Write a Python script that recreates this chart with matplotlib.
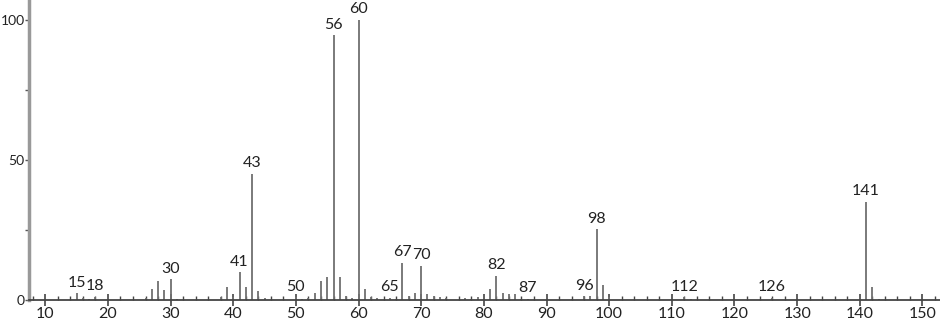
import matplotlib.pyplot as plt
import numpy as np

# mass spectrum: m/z and relative intensity
mz = [15, 16, 17, 18, 26, 27, 28, 29, 30, 31,
      38, 39, 40, 41, 42, 43, 44, 45,
      50, 51, 52, 53, 54, 55, 56, 57, 58, 59, 60, 61, 62, 63, 65, 66,
      67, 68, 69, 70, 71, 72, 73, 74, 77, 78, 79, 81, 82, 83, 84, 85, 86, 87,
      94, 96, 97, 98, 99, 100, 112, 113, 126, 141, 142, 143]
inten = [2.4, 0.6, 0.5, 1.1, 0.8, 3.9, 6.8, 3.6, 7.5, 0.5,
         1.0, 4.7, 1.2, 10.0, 4.7, 45.0, 3.2, 0.6,
         1.0, 0.5, 0.7, 2.4, 6.8, 8.3, 94.5, 8.3, 1.5, 0.6, 100.0, 3.8, 1.0, 0.6, 0.8, 0.5,
         13.3, 1.4, 2.5, 12.3, 2.1, 1.4, 1.2, 0.6, 0.8, 0.5, 1.0, 4.0, 8.6, 2.4, 2.0, 2.0, 0.5, 0.5,
         0.4, 1.4, 1.4, 25.2, 5.4, 1.2, 1.0, 0.3, 0.8, 35.1, 4.5, 0.5]
labelled = [15, 18, 30, 41, 43, 50, 56, 60, 65, 67, 70, 82, 87, 96, 98, 112, 126, 141]

plt.rcParams['font.family'] = ['Lato', 'DejaVu Sans']

fig = plt.figure(figsize=(9.4, 3.22), dpi=100)
ax = fig.add_axes([29/940, 22/322, 1 - 29/940, 1 - 22/322])

ax.vlines(mz, 0, inten, color='#707070', lw=1.3)

lookup = dict(zip(mz, inten))
for m in labelled:
    ax.annotate(str(m), (m, lookup[m]), xytext=(0, 2.5), textcoords='offset points',
                ha='center', va='bottom', fontsize=11.5, color='#222222')

ax.set_xlim(7.4, 152.8)
ax.set_ylim(0, 107.1)

ax.set_xticks(np.arange(10, 151, 10))
ax.set_xticks(np.arange(8, 153, 2), minor=True)
ax.set_yticks([0, 50, 100])
ax.set_yticks([25, 75], minor=True)

ax.tick_params(axis='x', which='major', direction='inout', length=8, width=1.2,
               color='#444444', labelsize=11.5, labelcolor='#222222', pad=1)
ax.tick_params(axis='x', which='minor', direction='in', length=3, width=1,
               color='#444444')
ax.tick_params(axis='y', which='both', direction='out', length=3, width=1,
               color='#555555', labelsize=10, labelcolor='#222222', pad=0)

for s in ['top', 'right']:
    ax.spines[s].set_visible(False)
ax.spines['left'].set_color('#999999')
ax.spines['left'].set_linewidth(2.5)
ax.spines['bottom'].set_color('#444444')
ax.spines['bottom'].set_linewidth(1.3)

fig.savefig('out.png', dpi=100)
